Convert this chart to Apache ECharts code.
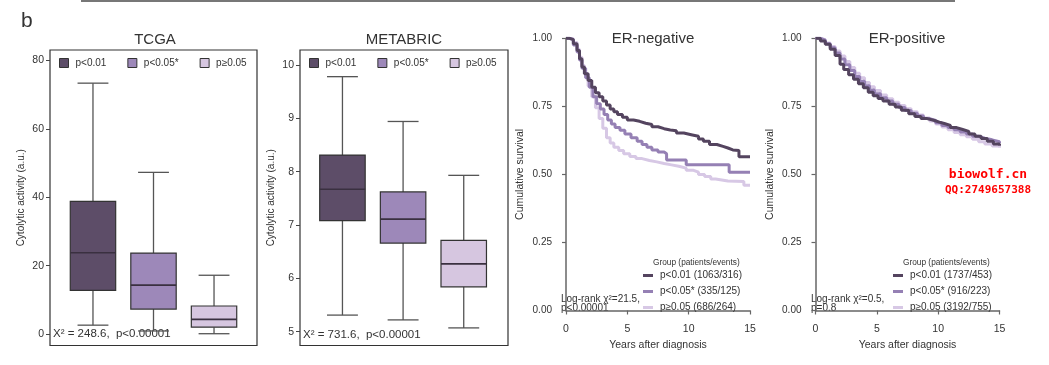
<!DOCTYPE html>
<html><head><meta charset="utf-8">
<script src="https://cdn.jsdelivr.net/npm/echarts@6/dist/echarts.min.js"></script>
<style>html,body{margin:0;padding:0;background:#fff}#c{width:1049px;height:365px}</style>
</head><body><div id="c"></div>
<script>
// ---------- data ----------
const groups = ['p<0.01', 'p<0.05*', 'p\u22650.05'];
// [min, Q1, median, Q3, max]
const tcgaBoxes = [[2.6, 12.8, 23.8, 38.8, 73.4], [0.9, 7.3, 14.3, 23.7, 47.3], [0.1, 2.0, 4.3, 8.2, 17.2]];
const metabricBoxes = [[5.31, 7.08, 7.67, 8.31, 9.78], [5.22, 6.66, 7.11, 7.62, 8.94], [5.07, 5.84, 6.27, 6.71, 7.93]];
const tcgaTicks = [0, 20, 40, 60, 80];
const metabricTicks = [5, 6, 7, 8, 9, 10];
const kmTicksX = [0, 5, 10, 15];
const kmTicksY = [0, 0.25, 0.5, 0.75, 1];
const erNegLegend = ['p<0.01 (1063/316)', 'p<0.05* (335/125)', 'p\u22650.05 (686/264)'];
const erPosLegend = ['p<0.01 (1737/453)', 'p<0.05* (916/223)', 'p\u22650.05 (3192/755)'];
const tcgaStat = 'X\u00b2 = 248.6,  p<0.00001';
const metabricStat = 'X\u00b2 = 731.6,  p<0.00001';
const erNegStat = ['Log-rank \u03c7\u00b2=21.5,', 'p<0.00001'];
const erPosStat = ['Log-rank \u03c7\u00b2=0.5,', 'p=0.8'];

const erNegDark = [[0,1],[0.3,0.995],[0.6,0.98],[0.9,0.955],[1.1,0.925],[1.3,0.895],[1.5,0.87],[1.8,0.845],[2.1,0.82],[2.4,0.8],[2.7,0.785],[3.0,0.77],[3.3,0.755],[3.6,0.74],[3.9,0.73],[4.2,0.72],[4.6,0.71],[5.0,0.7],[5.5,0.695],[6.0,0.688],[6.5,0.683],[7.0,0.675],[7.5,0.668],[8.0,0.663],[8.5,0.66],[9.0,0.652],[9.6,0.645],[10.3,0.64],[10.8,0.63],[11.2,0.622],[11.7,0.61],[12.3,0.603],[12.8,0.597],[13.2,0.59],[13.6,0.588],[14.1,0.565],[15,0.565]];
const erNegMid = [[0,1],[0.3,0.995],[0.6,0.975],[0.9,0.95],[1.1,0.92],[1.3,0.89],[1.6,0.855],[1.9,0.82],[2.2,0.785],[2.5,0.76],[2.8,0.74],[3.1,0.72],[3.4,0.7],[3.7,0.685],[4.0,0.672],[4.4,0.662],[4.8,0.648],[5.3,0.635],[5.8,0.622],[6.2,0.61],[6.6,0.6],[7.0,0.59],[7.5,0.582],[8.0,0.576],[8.2,0.553],[9.8,0.535],[13.3,0.508],[15,0.508]];
const erNegLight = [[0,1],[0.3,0.998],[0.6,0.985],[0.9,0.96],[1.1,0.93],[1.3,0.9],[1.5,0.87],[1.8,0.825],[2.1,0.785],[2.4,0.745],[2.7,0.705],[3.0,0.67],[3.3,0.635],[3.6,0.615],[3.9,0.6],[4.3,0.588],[4.7,0.576],[5.2,0.566],[5.7,0.558],[6.2,0.551],[6.8,0.546],[7.4,0.54],[8.0,0.535],[8.6,0.53],[9.2,0.523],[9.8,0.515],[10.4,0.508],[10.8,0.5],[11.3,0.492],[11.8,0.483],[12.2,0.476],[13.2,0.474],[14.5,0.46],[15,0.46]];
const erPosDark = [[0,1],[0.4,0.99],[0.8,0.978],[1.2,0.96],[1.6,0.937],[2.0,0.905],[2.3,0.885],[2.7,0.866],[3.1,0.85],[3.5,0.833],[3.9,0.818],[4.3,0.802],[4.7,0.789],[5.1,0.779],[5.5,0.77],[6.0,0.758],[6.5,0.748],[7.0,0.736],[7.6,0.723],[8.1,0.713],[8.6,0.705],[9.1,0.698],[9.7,0.692],[10.1,0.687],[10.5,0.68],[11.0,0.672],[11.5,0.665],[12.0,0.658],[12.5,0.648],[13.0,0.64],[13.5,0.632],[14.0,0.622],[14.5,0.612],[15,0.605]];
const erPosMid = [[0,1],[0.4,0.993],[0.8,0.98],[1.2,0.965],[1.6,0.946],[2.0,0.924],[2.4,0.903],[2.8,0.882],[3.2,0.86],[3.6,0.842],[4.0,0.826],[4.4,0.81],[4.8,0.796],[5.3,0.782],[5.8,0.77],[6.3,0.758],[6.8,0.746],[7.3,0.735],[7.8,0.725],[8.3,0.715],[8.8,0.705],[9.3,0.698],[9.8,0.69],[10.3,0.68],[10.8,0.672],[11.3,0.664],[11.8,0.656],[12.3,0.648],[12.8,0.64],[13.3,0.633],[13.8,0.627],[14.4,0.62],[15,0.615]];
const erPosLight = [[0,1],[0.4,0.995],[0.8,0.983],[1.2,0.97],[1.6,0.953],[2.0,0.935],[2.4,0.915],[2.8,0.893],[3.2,0.872],[3.6,0.855],[4.0,0.838],[4.4,0.822],[4.8,0.808],[5.3,0.792],[5.8,0.778],[6.3,0.765],[6.8,0.753],[7.3,0.741],[7.8,0.73],[8.3,0.718],[8.8,0.707],[9.3,0.696],[9.8,0.685],[10.3,0.674],[10.8,0.664],[11.3,0.654],[11.8,0.646],[12.3,0.638],[12.8,0.629],[13.3,0.62],[13.8,0.612],[14.4,0.604],[15,0.598]];

// ---------- styles ----------
const FONT = '"Liberation Sans", Arial, sans-serif';
const TXT = '#333';
const boxColors = ['#5d4d68', '#9d88b9', '#d6c6e0'];
const lineColors = ['#54445f', '#9580b4', '#d7c8e5'];

function boxRender(params, api) {
  const x = api.value(0);
  const v = [1, 2, 3, 4, 5].map(i => api.value(i));
  const p = v.map(val => api.coord([x, val]));
  const bw = api.size([0.75, 0])[0];
  const cw = api.size([0.51, 0])[0];
  const cx = p[0][0];
  const wl = { stroke: '#555', lineWidth: 1.3 };
  return {
    type: 'group',
    children: [
      { type: 'line', shape: { x1: cx, y1: p[4][1], x2: cx, y2: p[3][1] }, style: wl },
      { type: 'line', shape: { x1: cx, y1: p[1][1], x2: cx, y2: p[0][1] }, style: wl },
      { type: 'line', shape: { x1: cx - cw / 2, y1: p[4][1], x2: cx + cw / 2, y2: p[4][1] }, style: wl },
      { type: 'line', shape: { x1: cx - cw / 2, y1: p[0][1], x2: cx + cw / 2, y2: p[0][1] }, style: wl },
      { type: 'rect', shape: { x: cx - bw / 2, y: p[3][1], width: bw, height: p[1][1] - p[3][1] },
        style: { fill: api.visual('color'), stroke: '#333', lineWidth: 1.2 } },
      { type: 'line', shape: { x1: cx - bw / 2, y1: p[2][1], x2: cx + bw / 2, y2: p[2][1] },
        style: { stroke: '#3a3040', lineWidth: 1.6 } }
    ]
  };
}

function boxSeries(boxes, gi) {
  return boxes.map((b, i) => ({
    type: 'custom', name: groups[i], xAxisIndex: gi, yAxisIndex: gi,
    renderItem: boxRender, itemStyle: { color: boxColors[i] },
    encode: { x: 0, y: [1, 2, 3, 4, 5] },
    data: [[i + 1].concat(b)]
  }));
}

function kmSeries(curves, names, gi) {
  return curves.map((c, i) => ({
    type: 'line', name: names[i], xAxisIndex: gi, yAxisIndex: gi,
    step: 'end', showSymbol: false, symbol: 'none', silent: true,
    lineStyle: { color: lineColors[i], width: 3 },
    itemStyle: { color: lineColors[i] },
    z: 3 - i,
    data: c
  }));
}

const boxYAxis = (min, max, ticks, gi) => ({
  type: 'value', gridIndex: gi, min: min, max: max,
  name: 'Cytolytic activity (a.u.)', nameLocation: 'middle', nameGap: 24,
  nameTextStyle: { fontFamily: FONT, fontSize: 10, color: TXT },
  axisLine: { show: false },
  axisTick: { show: true, length: 4, customValues: ticks, lineStyle: { color: '#444' } },
  axisLabel: { customValues: ticks, fontFamily: FONT, fontSize: 10.5, color: TXT, margin: 6 },
  splitLine: { show: false }
});

const kmXAxis = (gi) => ({
  type: 'value', gridIndex: gi, min: 0, max: 15, interval: 5, offset: 8,
  name: 'Years after diagnosis', nameLocation: 'middle', nameGap: 16,
  nameTextStyle: { fontFamily: FONT, fontSize: 10.5, color: TXT },
  axisLine: { show: true, lineStyle: { color: '#666', width: 1.5 } },
  axisTick: { show: true, length: 4, lineStyle: { color: '#666', width: 1.2 } },
  axisLabel: { fontFamily: FONT, fontSize: 10.5, color: TXT, margin: 5 },
  splitLine: { show: false }
});
const kmYAxis = (gi) => ({
  type: 'value', gridIndex: gi, min: 0, max: 1, interval: 0.25, offset: 7,
  name: 'Cumulative survival', nameLocation: 'middle', nameGap: 33,
  nameTextStyle: { fontFamily: FONT, fontSize: 10.5, color: TXT },
  axisLine: { show: true, lineStyle: { color: '#666', width: 1.5 } },
  axisTick: { show: true, length: 4, lineStyle: { color: '#666', width: 1.2 } },
  axisLabel: { fontFamily: FONT, fontSize: 10, color: TXT, margin: 7, formatter: v => v.toFixed(2) },
  splitLine: { show: false }
});

const boxLegend = (left) => ({
  left: left, top: 58, padding: 0, orient: 'horizontal', data: groups, icon: 'rect',
  itemWidth: 9, itemHeight: 9, itemGap: 21, selectedMode: false,
  itemStyle: { borderColor: '#333', borderWidth: 1 },
  textStyle: { fontFamily: FONT, fontSize: 10, color: TXT, padding: [0, 0, 0, 2] }
});
const kmLegend = (left, names) => ({
  left: left, top: 269.5, padding: 0, orient: 'vertical', data: names, icon: 'rect',
  itemWidth: 10, itemHeight: 3, itemGap: 4, selectedMode: false,
  textStyle: { fontFamily: FONT, fontSize: 10, color: TXT, lineHeight: 12, padding: [0, 0, 0, 2] }
});

const text = (x, y, s, size, extra) => ({
  type: 'text', x: x, y: y,
  style: Object.assign({ text: s, fontFamily: FONT, fontSize: size, fill: TXT, textVerticalAlign: 'middle' }, extra || {})
});

const chart = echarts.init(document.getElementById('c'), null, { renderer: 'canvas' });
chart.setOption({
  backgroundColor: '#fff',
  animation: false,
  grid: [
    { left: 50, top: 50, width: 207, height: 295.5, show: true, borderColor: '#333', borderWidth: 1.2, backgroundColor: 'transparent' },
    { left: 300, top: 50, width: 208, height: 295.5, show: true, borderColor: '#333', borderWidth: 1.2, backgroundColor: 'transparent' },
    { left: 566, top: 38.3, width: 184, height: 272.2 },
    { left: 815.5, top: 38.3, width: 184, height: 272.2 }
  ],
  xAxis: [
    { type: 'value', gridIndex: 0, min: 0.29, max: 3.71, show: false },
    { type: 'value', gridIndex: 1, min: 0.30, max: 3.73, show: false },
    kmXAxis(2), kmXAxis(3)
  ],
  yAxis: [
    boxYAxis(-3.35, 83.1, tcgaTicks, 0),
    boxYAxis(4.74, 10.28, metabricTicks, 1),
    kmYAxis(2), kmYAxis(3)
  ],
  legend: [boxLegend(59), boxLegend(309), kmLegend(643, erNegLegend), kmLegend(893, erPosLegend)],
  series: [].concat(
    boxSeries(tcgaBoxes, 0),
    boxSeries(metabricBoxes, 1),
    kmSeries([erNegDark, erNegMid, erNegLight], erNegLegend, 2),
    kmSeries([erPosDark, erPosMid, erPosLight], erPosLegend, 3)
  ),
  graphic: [
    { type: 'line', shape: { x1: 81, y1: 1, x2: 955, y2: 1 }, style: { stroke: '#777', lineWidth: 2 } },
    text(21, 21, 'b', 21),
    text(155, 40, 'TCGA', 15, { textAlign: 'center' }),
    text(404, 40, 'METABRIC', 15, { textAlign: 'center' }),
    text(653, 39, 'ER-negative', 15, { textAlign: 'center' }),
    text(907, 39, 'ER-positive', 15, { textAlign: 'center' }),
    text(53, 334, tcgaStat, 11.5),
    text(303, 335, metabricStat, 11.5),
    text(653, 263, 'Group (patients/events)', 8.3),
    text(903, 263, 'Group (patients/events)', 8.3),
    text(561, 299, erNegStat[0], 10),
    text(561, 308.5, erNegStat[1], 10),
    text(811, 299, erPosStat[0], 10),
    text(811, 308.5, erPosStat[1], 10),
    text(988, 175, 'biowolf.cn', 13, { textAlign: 'center', fill: '#ff0000', fontWeight: 'bold', fontFamily: '"DejaVu Sans Mono", monospace' }),
    text(988, 190, 'QQ:2749657388', 11, { textAlign: 'center', fill: '#ff0000', fontWeight: 'bold', fontFamily: '"DejaVu Sans Mono", monospace' })
  ]
});
</script>
</body></html>
